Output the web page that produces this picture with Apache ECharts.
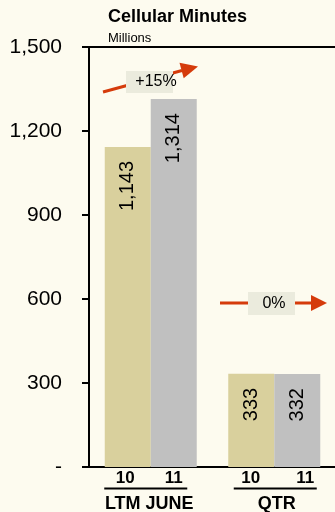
<!DOCTYPE html>
<html>
<head>
<meta charset="utf-8">
<script src="https://cdn.jsdelivr.net/npm/echarts@6/dist/echarts.min.js"></script>
<style>
  html, body { margin: 0; padding: 0; background: #FDFBEF; }
  #chart { width: 335px; height: 512px; }
</style>
</head>
<body>
<div id="chart"></div>
<script>
// Cellular minutes, millions
const periods = ['LTM JUNE', 'QTR'];
const years = ['10', '11'];
const minutes2010 = [1143, 333];
const minutes2011 = [1314, 332];
const yTicks = [0, 300, 600, 900, 1200, 1500];
const changeLabels = ['+15%', '0%'];

const FONT = "'Liberation Sans', Arial, sans-serif";
const ARROW = '#D53B0B';
const BOX = '#EBEBDD';

const fmt = v => v === 0 ? '-' : v.toLocaleString('en-US');

const barLabel = {
  show: true,
  position: 'insideTop',
  distance: 14,
  rotate: 90,
  align: 'right',
  verticalAlign: 'middle',
  color: '#000',
  fontFamily: FONT,
  fontSize: 20,
  formatter: p => fmt(p.value)
};

// Period labels: year pair with a rule beneath, then period name
function periodLabel(name, idx) {
  if (idx === 0) {
    return '{a0|' + years[0] + '}{b0|' + years[1] + '}\n' +
           '{u| }{g10| }\n' +
           '{c|' + name + '}{g3| }';
  }
  return '{a1|' + years[0] + '}{b1|' + years[1] + '}\n' +
         '{g2| }{u| }\n' +
         '{g5| }{c|' + name + '}';
}

const yr = { fontFamily: FONT, fontSize: 17, fontWeight: 'bold', color: '#000', align: 'center', lineHeight: 17 };

const chart = echarts.init(document.getElementById('chart'));
chart.setOption({
  backgroundColor: '#FDFBEF',
  animation: false,
  textStyle: { fontFamily: FONT },
  title: {
    text: 'Cellular Minutes',
    subtext: 'Millions',
    left: 108,
    top: 8,
    padding: 0,
    itemGap: 6,
    textStyle: { fontFamily: FONT, fontSize: 18, fontWeight: 'bold', color: '#000' },
    subtextStyle: { fontFamily: FONT, fontSize: 13, color: '#000' }
  },
  grid: {
    left: 89, top: 47, width: 247, height: 420,
    outerBoundsMode: 'none',
    containLabel: false,
    show: true, borderColor: '#000', borderWidth: 2, backgroundColor: 'transparent'
  },
  xAxis: {
    type: 'category',
    data: periods,
    axisLine: { show: true, lineStyle: { color: '#000', width: 2 } },
    axisTick: { show: false },
    axisLabel: {
      margin: 3,
      interval: 0,
      formatter: periodLabel,
      rich: {
        a0: Object.assign({ width: 46 }, yr),
        b0: Object.assign({ width: 51 }, yr),
        a1: Object.assign({ width: 62 }, yr),
        b1: Object.assign({ width: 47 }, yr),
        u: { width: 83, height: 2, backgroundColor: '#000', lineHeight: 3 },
        g10: { width: 10, height: 2, lineHeight: 3 },
        g2: { width: 2, height: 2, lineHeight: 3 },
        g3: { width: 3, lineHeight: 28 },
        g5: { width: 5, lineHeight: 28 },
        c: { fontFamily: FONT, fontSize: 18, fontWeight: 'bold', color: '#000', lineHeight: 28 }
      }
    }
  },
  yAxis: {
    type: 'value',
    min: yTicks[0],
    max: yTicks[yTicks.length - 1],
    interval: yTicks[1] - yTicks[0],
    axisLine: { show: true, lineStyle: { color: '#000', width: 2 } },
    axisTick: { show: true, length: 7, inside: false, lineStyle: { color: '#000', width: 2 } },
    splitLine: { show: false },
    axisLabel: { margin: 27, fontFamily: FONT, fontSize: 21, color: '#000', formatter: fmt }
  },
  series: [
    {
      name: years[0], type: 'bar', data: minutes2010, barWidth: 46, barGap: '0%',
      itemStyle: { color: '#D9D09D' }, label: barLabel
    },
    {
      name: years[1], type: 'bar', data: minutes2011, barWidth: 46,
      itemStyle: { color: '#C0C0C0' }, label: barLabel
    }
  ],
  graphic: [
    // growth arrow over the LTM pair
    { type: 'line', z: 10, shape: { x1: 103, y1: 92, x2: 182, y2: 70.5 }, style: { stroke: ARROW, lineWidth: 3 } },
    { type: 'polygon', z: 10, shape: { points: [[198, 66.5], [179.5, 62.8], [183.7, 78.2]] }, style: { fill: ARROW } },
    { type: 'rect', z: 11, shape: { x: 126, y: 71, width: 47, height: 22 }, style: { fill: BOX } },
    { type: 'text', z: 12, x: 156, y: 82, style: { text: changeLabels[0], fill: '#000', font: '16px ' + FONT, textAlign: 'center', textVerticalAlign: 'middle' } },
    // flat arrow over the quarter pair
    { type: 'line', z: 10, shape: { x1: 220, y1: 303, x2: 312, y2: 303 }, style: { stroke: ARROW, lineWidth: 3 } },
    { type: 'polygon', z: 10, shape: { points: [[327, 303], [311, 295], [311, 311]] }, style: { fill: ARROW } },
    { type: 'rect', z: 11, shape: { x: 248, y: 292, width: 47, height: 23 }, style: { fill: BOX } },
    { type: 'text', z: 12, x: 274, y: 304, style: { text: changeLabels[1], fill: '#000', font: '16px ' + FONT, textAlign: 'center', textVerticalAlign: 'middle' } }
  ]
});
</script>
</body>
</html>
